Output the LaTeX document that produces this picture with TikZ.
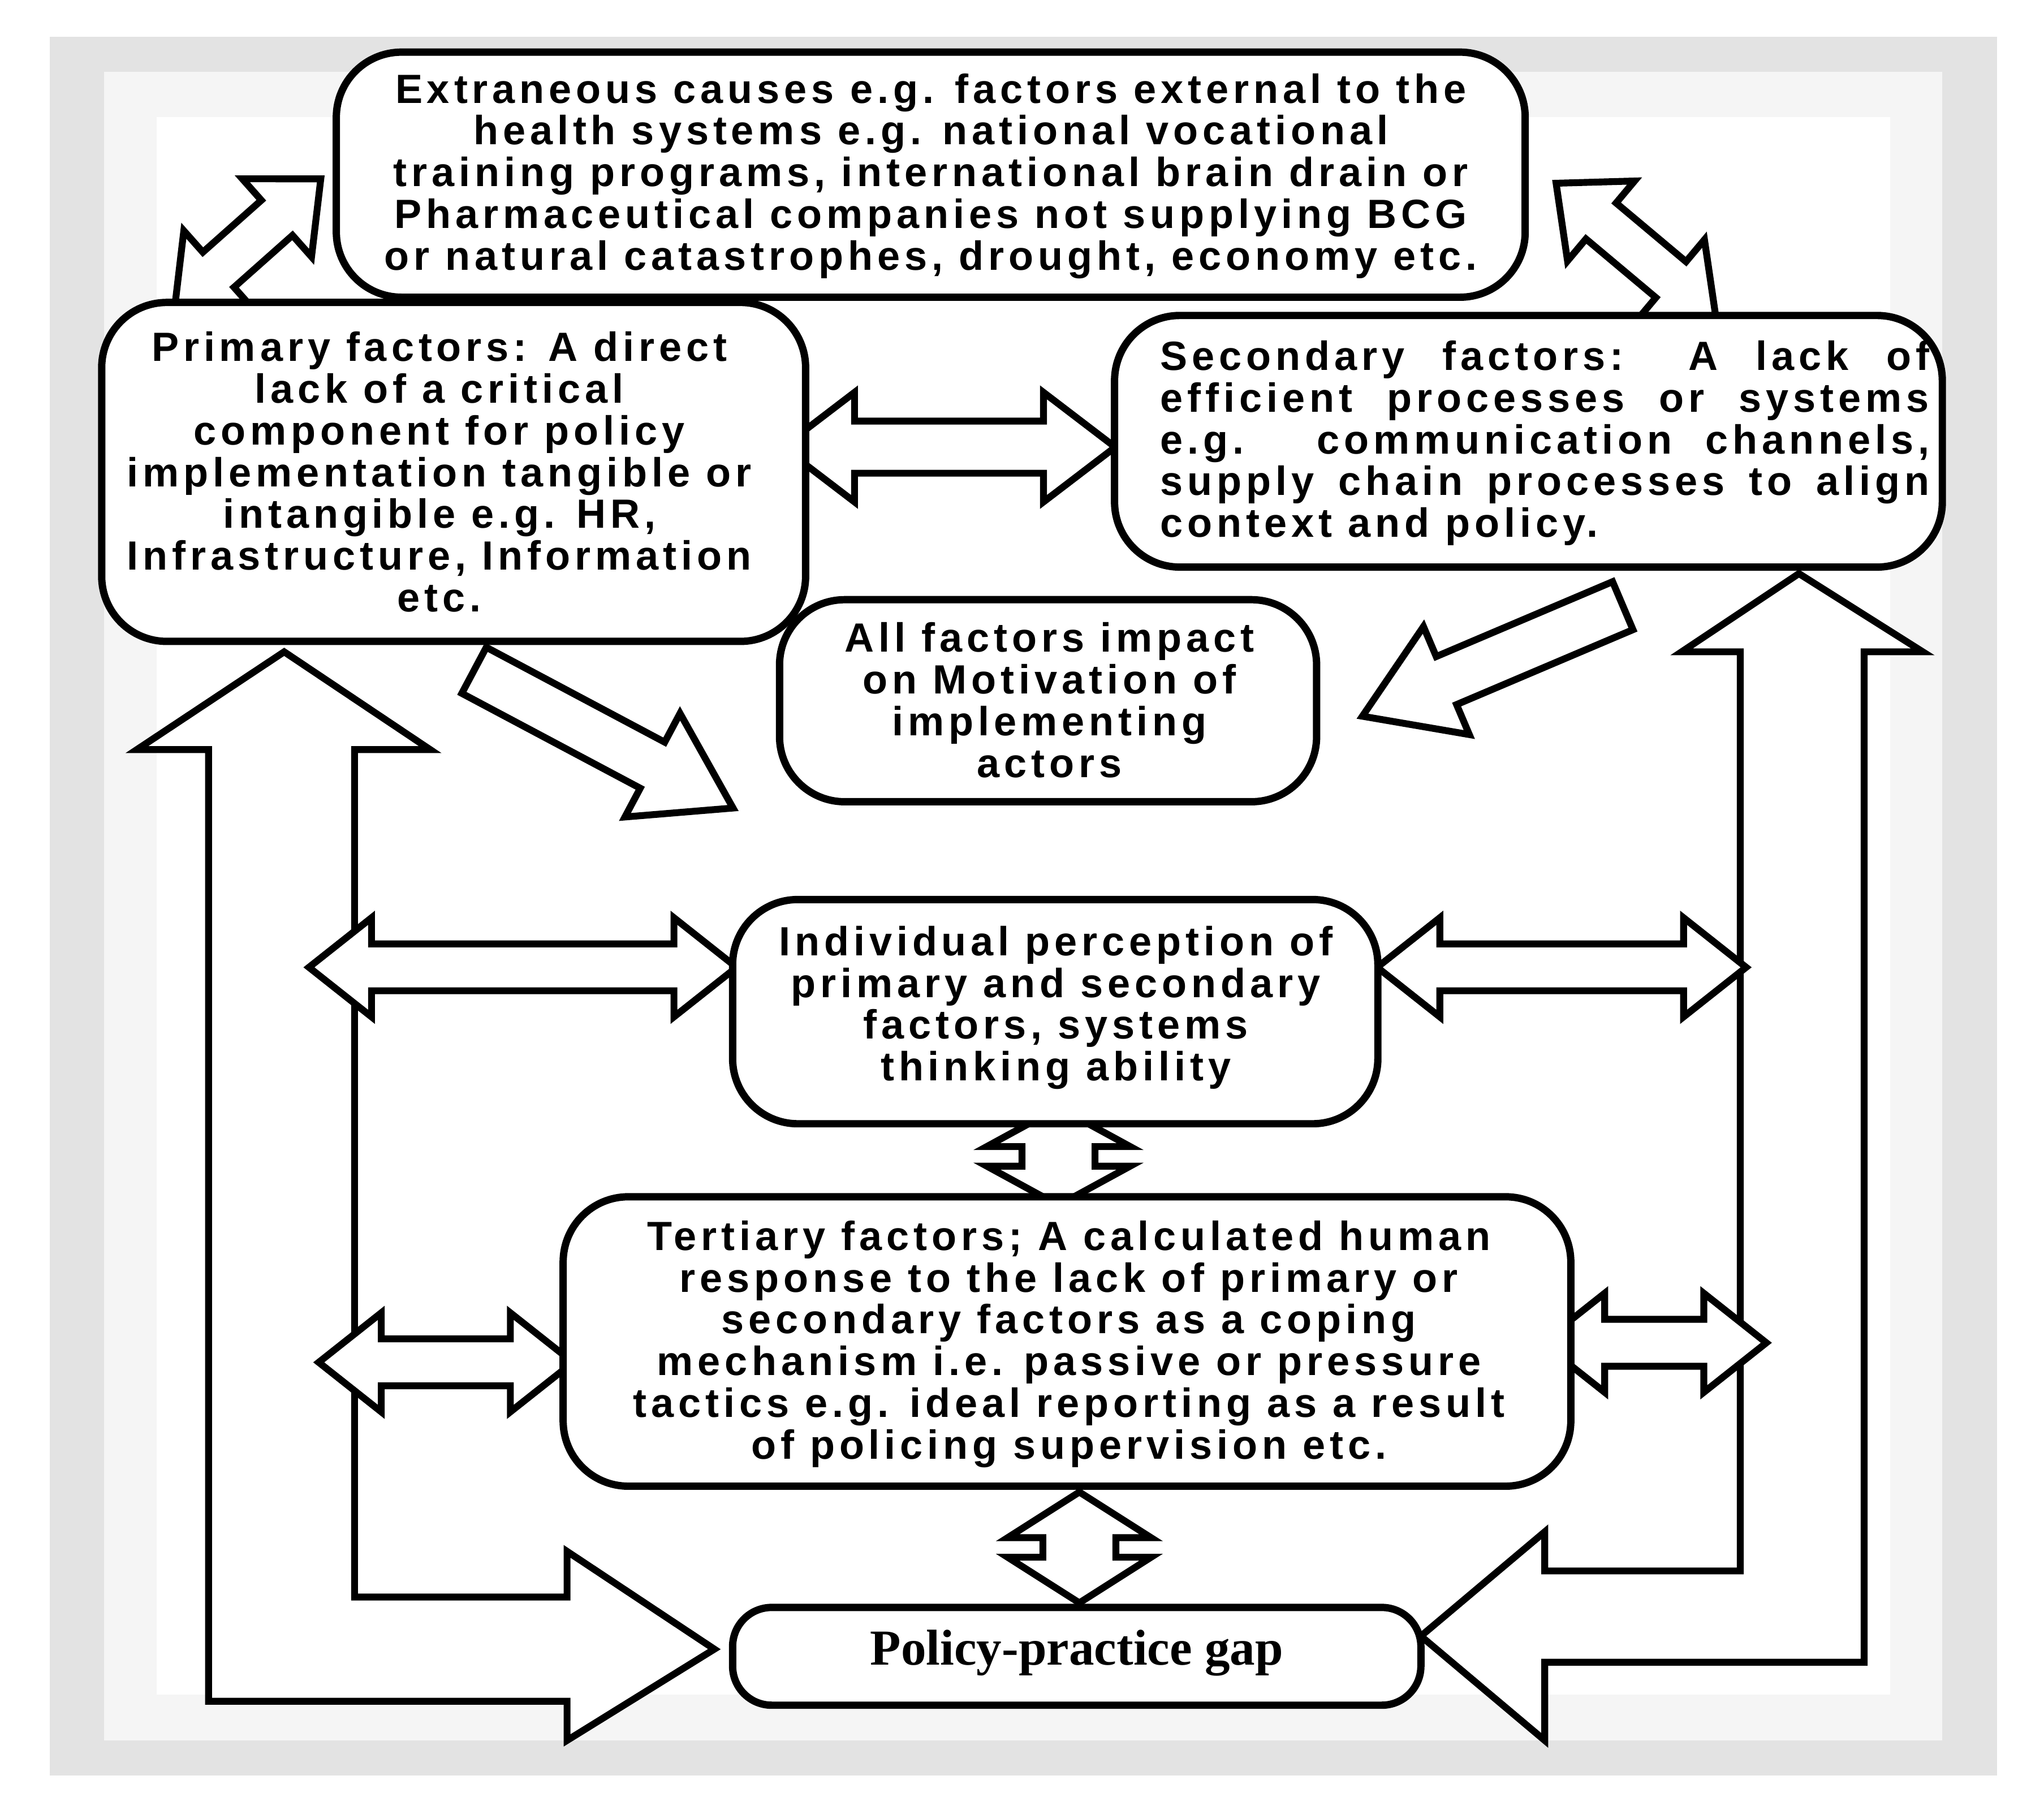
\documentclass[tikz,border=0pt]{standalone}
\usepackage{fontspec}
\setmainfont{Liberation Sans}
\newfontfamily\serifbold{Liberation Serif}
\begin{document}
\begin{tikzpicture}[x=0.1mm,y=-0.1mm,
 box/.style={draw=black,line width=1.6pt,rounded corners=5mm,fill=white},
 txt/.style={font=\fontsize{8.9}{9.1}\selectfont\bfseries\addfontfeatures{LetterSpace=11},align=center,inner sep=0},
 arr/.style={draw=black,line width=1.5pt,fill=white,line join=miter}]
\newcommand\darr[7]{\begin{scope}[shift={(#1,#2)},rotate=#3]
\draw[arr] (-#4/2,0) -- (-#4/2+#7,#6) -- (-#4/2+#7,#5) -- (#4/2-#7,#5) -- (#4/2-#7,#6) -- (#4/2,0) -- (#4/2-#7,-#6) -- (#4/2-#7,-#5) -- (-#4/2+#7,-#5) -- (-#4/2+#7,-#6) -- cycle;
\end{scope}}
\newcommand\sarr[7]{\begin{scope}[shift={(#1,#2)},rotate=#3]
\draw[arr] (-#4/2,#5) -- (#4/2-#7,#5) -- (#4/2-#7,#6) -- (#4/2,0) -- (#4/2-#7,-#6) -- (#4/2-#7,-#5) -- (-#4/2,-#5) -- cycle;
\end{scope}}
\newcommand\jl[1]{\makebox[59mm][s]{#1}}
\useasboundingbox (0,0) rectangle (1568,1388);
\fill[white] (0,0) rectangle (1568,1388);
\fill[gray!22] (38,28) rectangle (1532,1362);
\fill[gray!8] (80,55) rectangle (1490,1335);
\fill[white] (120,90) rectangle (1450,1300);
% corner arrows
\darr{190}{187}{41.6}{150}{18}{40}{45}
\darr{1255}{192}{-40}{160}{18}{40}{45}
\darr{728}{343}{0}{255}{20}{42}{55}
\sarr{463}{567}{-28}{225}{20}{45}{70}
\sarr{1145}{507}{-157}{217}{20}{45}{70}
% L arrows
\draw[arr] (160,575) -- (105,575) -- (218,500) -- (330,575) -- (272,575) -- (272,1225) -- (435,1225) -- (435,1190) -- (548,1265) -- (435,1335) -- (435,1305) -- (160,1305) -- cycle;
\draw[arr] (1335,500) -- (1290,500) -- (1380,440) -- (1475,500) -- (1430,500) -- (1430,1275) -- (1185,1275) -- (1185,1335) -- (1090,1255) -- (1185,1175) -- (1185,1205) -- (1335,1205) -- cycle;
\darr{401}{742}{0}{328}{18}{38}{48}
\darr{1198}{742}{0}{283}{18}{38}{48}
\darr{342}{1045}{0}{195}{18}{38}{48}
\darr{1269}{1030}{0}{172}{18}{38}{48}
\darr{812}{887}{90}{75}{28}{55}{30}
\darr{828}{1187}{90}{85}{28}{55}{35}
% boxes
\draw[box] (258,40) rectangle (1170,228);
\node[txt] (ext) at (714,135) {Extraneous causes e.g. factors external to the\\health systems e.g. national vocational\\training programs, international brain drain or\\Pharmaceutical companies not supplying BCG\\or natural catastrophes, drought, economy etc.};
\draw[box] (78,232) rectangle (618,492);
\node[txt] (prim) at (337,362) {Primary factors: A direct\\lack of a critical\\component for policy\\implementation tangible or\\intangible e.g. HR,\\Infrastructure, Information\\etc.};
\draw[box] (855,242) rectangle (1490,435);
\node[txt,align=left] (sec) at (1185,340) {\jl{Secondary factors: A lack of}\\\jl{efficient processes or systems}\\\jl{e.g. communication channels,}\\\jl{supply chain processes to align}\\context and policy.};
\draw[box] (598,460) rectangle (1010,615);
\node[txt] (mot) at (805,537) {All factors impact\\on Motivation of\\implementing\\actors};
\draw[box] (562,690) rectangle (1057,862);
\node[txt] (ind) at (810,773) {Individual perception of\\primary and secondary\\factors, systems\\thinking ability};
\draw[box] (432,918) rectangle (1205,1140);
\node[txt] (ter) at (820,1031) {Tertiary factors; A calculated human\\response to the lack of primary or\\secondary factors as a coping\\mechanism i.e. passive or pressure\\tactics e.g. ideal reporting as a result\\of policing supervision etc.};
\draw[box,rounded corners=3mm] (562,1233) rectangle (1090,1308);
\node[font=\serifbold\fontsize{11}{12}\selectfont\bfseries] (gap) at (826,1268) {Policy-practice gap};
\end{tikzpicture}
\end{document}
